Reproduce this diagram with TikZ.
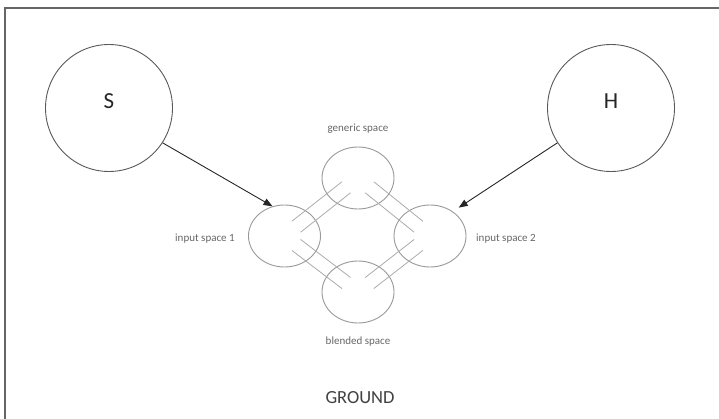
\documentclass[tikz,border=0pt]{standalone}
\usepackage{fontspec}
\setmainfont{Carlito}
\usetikzlibrary{shapes.geometric,arrows.meta,calc}
\begin{document}
\begin{tikzpicture}[x=1pt,y=-1pt,
 big/.style={circle,draw=black!65,line width=0.9pt,minimum size=127pt,inner sep=0pt},
 bigtext/.style={font=\fontsize{23}{23}\selectfont,text=black!85},
 small/.style={ellipse,draw=black!40,line width=0.9pt,minimum width=72pt,minimum height=62pt,inner sep=0pt},
 lbl/.style={font=\fontsize{11}{11}\selectfont,text=black!60},
 link/.style={draw=black!33,line width=0.8pt},
 arr/.style={-{Triangle[length=9pt,width=7pt]},line width=0.9pt,draw=black!85}]
\useasboundingbox (0,0) rectangle (719,419);
\draw[black!60,line width=1.2pt] (5,419) -- (5,8) -- (719,8);
\node[big,label={[bigtext,yshift=7pt]center:S}] (s) at (109,108) {};
\node[big,label={[bigtext,yshift=7pt]center:H}] (h) at (611,108) {};
\node[small] (gen) at (358,178) {};
\node[small] (in1) at (284.5,236) {};
\node[small] (in2) at (430,236) {};
\node[small] (bl) at (358,292) {};
\node[lbl] (tgen) at (358,129) {generic space};
\node[lbl] (tin1) at (205,239) {input space 1};
\node[lbl] (tin2) at (506,239) {input space 2};
\node[lbl] (tbl) at (358,342) {blended space};
\node[font=\fontsize{18.5}{18.5}\selectfont,text=black!75] (ground) at (360,398) {GROUND};
\foreach \a/\b in {in1/gen,gen/in2,in1/bl,bl/in2}{
  \draw[link] ($(\a)!0.16!(\b)!7pt!90:(\b)$) -- ($(\b)!0.16!(\a)!7pt!-90:(\a)$);
  \draw[link] ($(\a)!0.16!(\b)!7pt!-90:(\b)$) -- ($(\b)!0.16!(\a)!7pt!90:(\a)$);
}
\draw[arr] (s.-33) -- (in1.112);
\draw[arr,shorten >=7pt] (h.213) -- (in2.47);
\end{tikzpicture}
\end{document}
